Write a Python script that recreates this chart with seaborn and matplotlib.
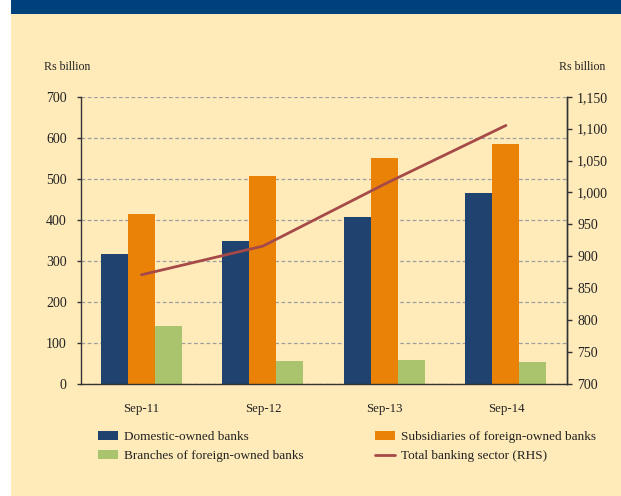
import numpy as np
import pandas as pd
import matplotlib
matplotlib.use("Agg")
from matplotlib import pyplot as plt
from matplotlib.patches import Rectangle
from matplotlib.ticker import FuncFormatter, MultipleLocator
import seaborn as sns

periods = ["Sep-11", "Sep-12", "Sep-13", "Sep-14"]
domestic = [316, 349, 406, 465]
subsidiaries = [413, 507, 551, 585]
branches = [141, 57, 58, 54]
total_rhs = [871, 916, 1013, 1105]

series_names = ["Domestic-owned banks", "Subsidiaries of foreign-owned banks",
                "Branches of foreign-owned banks"]
line_name = "Total banking sector (RHS)"

bank_df = pd.DataFrame({
    "period": periods * 3,
    "group": [series_names[0]] * 4 + [series_names[1]] * 4 + [series_names[2]] * 4,
    "value": domestic + subsidiaries + branches,
})

bg = "#FFEBBA"
colors = ["#1F436E", "#EB8208", "#A9C46C"]
line_col = "#A54A48"

sns.set_style("white")
plt.rcParams["font.family"] = ["Liberation Serif", "DejaVu Serif"]

fig = plt.figure(figsize=(6.21, 4.96), dpi=100)
fig.patch.set_facecolor("white")
# cream panel and dark blue header band
fig.patches.append(Rectangle((11 / 621, 0), 1, 1, transform=fig.transFigure,
                             facecolor=bg, edgecolor="none", zorder=-2))
fig.patches.append(Rectangle((11 / 621, 1 - 14 / 496), 1, 14 / 496, transform=fig.transFigure,
                             facecolor="#00417B", edgecolor="none", zorder=-1))

ax = fig.add_axes([80.7 / 621, 1 - 384 / 496, (566.7 - 80.7) / 621, (384 - 96.7) / 496])
ax.set_facecolor(bg)

sns.barplot(data=bank_df, x="period", y="value", hue="group", order=periods,
            hue_order=series_names, palette=colors, saturation=1, width=0.667,
            linewidth=0, ax=ax)
bar_handles, bar_labels = ax.get_legend_handles_labels()
ax.get_legend().remove()

ax.set_ylim(0, 700)
ax.set_xlim(-0.5, len(periods) - 0.5)
ax.yaxis.set_major_locator(MultipleLocator(100))
ax.set_axisbelow(True)
ax.grid(axis="y", color="#9E9E9E", linestyle=(0, (3, 2)), linewidth=0.9)
ax.grid(axis="x", visible=False)
ax.set_xlabel("")
ax.set_ylabel("")

for s in ["left", "bottom", "right"]:
    ax.spines[s].set_color("#333333")
    ax.spines[s].set_linewidth(1.0)
ax.spines["top"].set_visible(False)

ax.set_xticks(np.arange(-0.5, len(periods)), minor=True)
ax.tick_params(axis="x", which="major", length=0, pad=13.5, labelsize=9.3, colors="#222222")
ax.tick_params(axis="x", which="minor", length=3.5, width=1, direction="out", color="#333333")
ax.tick_params(axis="y", length=3, width=1, direction="out", pad=7, labelsize=10,
               color="#333333", labelcolor="#222222", left=True)

ax2 = ax.twinx()
sns.lineplot(x=np.arange(len(periods)), y=total_rhs, color=line_col, linewidth=2.0,
             ax=ax2, label=line_name)
line_handles, line_labels = ax2.get_legend_handles_labels()
ax2.get_legend().remove()
ax2.set_ylim(700, 1150)
ax2.yaxis.set_major_locator(MultipleLocator(50))
ax2.yaxis.set_major_formatter(FuncFormatter(lambda v, p: f"{int(v):,}"))
ax2.tick_params(axis="y", length=3.5, width=1, direction="out", pad=4, labelsize=10,
                color="#333333", labelcolor="#222222", right=True)
for s in ["top", "left", "bottom"]:
    ax2.spines[s].set_visible(False)
ax2.spines["right"].set_color("#333333")
ax2.spines["right"].set_linewidth(1.0)

fig.text(44 / 621, 1 - 67 / 496, "Rs billion", fontsize=8.6, va="center", ha="left", color="#222222")
fig.text(605 / 621, 1 - 67 / 496, "Rs billion", fontsize=8.6, va="center", ha="right", color="#222222")

leg_kw = dict(frameon=False, fontsize=9.5, handlelength=1.5, handleheight=0.6,
              handletextpad=0.45, labelspacing=0.55, borderpad=0, borderaxespad=0,
              loc="upper left")
leg1 = fig.legend([bar_handles[0], bar_handles[2]], [bar_labels[0], bar_labels[2]],
                  bbox_to_anchor=(98 / 621, 1 - 431 / 496), **leg_kw)
leg2 = fig.legend([bar_handles[1], line_handles[0]], [bar_labels[1], line_labels[0]],
                  bbox_to_anchor=(375 / 621, 1 - 431 / 496), **leg_kw)
for leg in (leg1, leg2):
    for t in leg.get_texts():
        t.set_color("#222222")

fig.savefig("out.png", dpi=100, facecolor=fig.get_facecolor())
plt.close(fig)
